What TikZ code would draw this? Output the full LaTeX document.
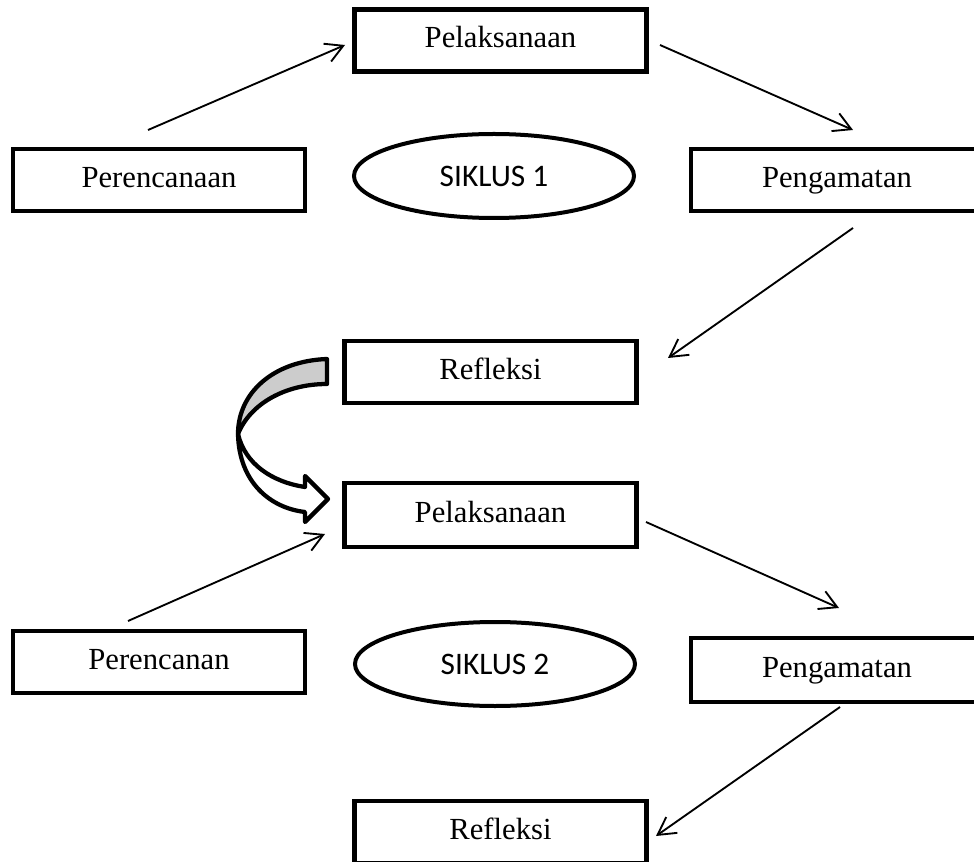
\documentclass[tikz,border=0pt]{standalone}
\usepackage{fontspec}
\setmainfont{Liberation Serif}
\newfontfamily\calibri{Carlito}
\usetikzlibrary{arrows.meta,shapes.geometric}
\definecolor{bandgray}{RGB}{204,204,204}
\tikzset{
  stepbox/.style={draw, line width=3.4pt, rectangle, minimum width=219pt, minimum height=46.5pt,
    inner sep=0pt, font={\fontsize{23}{28}\selectfont}, text height=15.3pt, text depth=4.6pt},
  cyclebox/.style={draw, line width=3pt, ellipse, minimum width=210pt, minimum height=63pt,
    inner sep=0pt, font={\fontsize{23.5}{28}\calibri\selectfont}},
  flow/.style={line width=1.4pt, -{Straight Barb[length=13pt,width=14.5pt,line width=1.4pt]}},
  bigarrow/.style={draw, line width=3.2pt, line join=round}
}
\begin{document}
\begin{tikzpicture}[x=0.75pt,y=-0.75pt]
\clip (0,0) rectangle (974,862);
\fill[white] (0,0) rectangle (974,862);
% cycle 1
\node[stepbox] (pel1) at (500.5,40.5) {Pelaksanaan};
\node[stepbox] (per1) at (159,180) {Perencanaan};
\node[cyclebox] (sik1) at (494,176) {SIKLUS 1};
\node[stepbox] (pen1) at (837,180) {Pengamatan};
\node[stepbox] (ref1) at (490.5,372) {Refleksi};
% cycle 2
\node[stepbox, minimum height=48pt] (pel2) at (490.5,515) {Pelaksanaan};
\node[stepbox] (per2) at (159,662) {Perencanan};
\node[cyclebox] (sik2) at (495,664) {SIKLUS 2};
\node[stepbox, minimum height=48pt] (pen2) at (837,670) {Pengamatan};
\node[stepbox] (ref2) at (500.5,832) {Refleksi};
% connector end points
\coordinate (a1s) at (148,130); \coordinate (a1e) at (345,45);
\coordinate (a2s) at (660,45);  \coordinate (a2e) at (853,130);
\coordinate (a3s) at (853,228); \coordinate (a3e) at (668,358);
\coordinate (b1s) at (128,621); \coordinate (b1e) at (325,534);
\coordinate (b2s) at (646,522); \coordinate (b2e) at (839,608);
\coordinate (b3s) at (840,707); \coordinate (b3e) at (656,836);
\draw[flow] (a1s) -- (a1e);
\draw[flow] (a2s) -- (a2e);
\draw[flow] (a3s) -- (a3e);
\draw[flow] (b1s) -- (b1e);
\draw[flow] (b2s) -- (b2e);
\draw[flow] (b3s) -- (b3e);
% curved block arrow from Refleksi to Pelaksanaan
\draw[bigarrow, fill=white] (238,434) .. controls (239,482) and (270,508) .. (305,512)
  -- (305,522) -- (328,499) -- (305,476) -- (305,487)
  .. controls (272,482) and (245,464) .. (238,434) -- cycle;
\draw[bigarrow, fill=bandgray] (327,359) .. controls (273,361) and (238,393) .. (238,434)
  .. controls (250,404) and (285,384) .. (327,384) -- cycle;
\end{tikzpicture}
\end{document}
